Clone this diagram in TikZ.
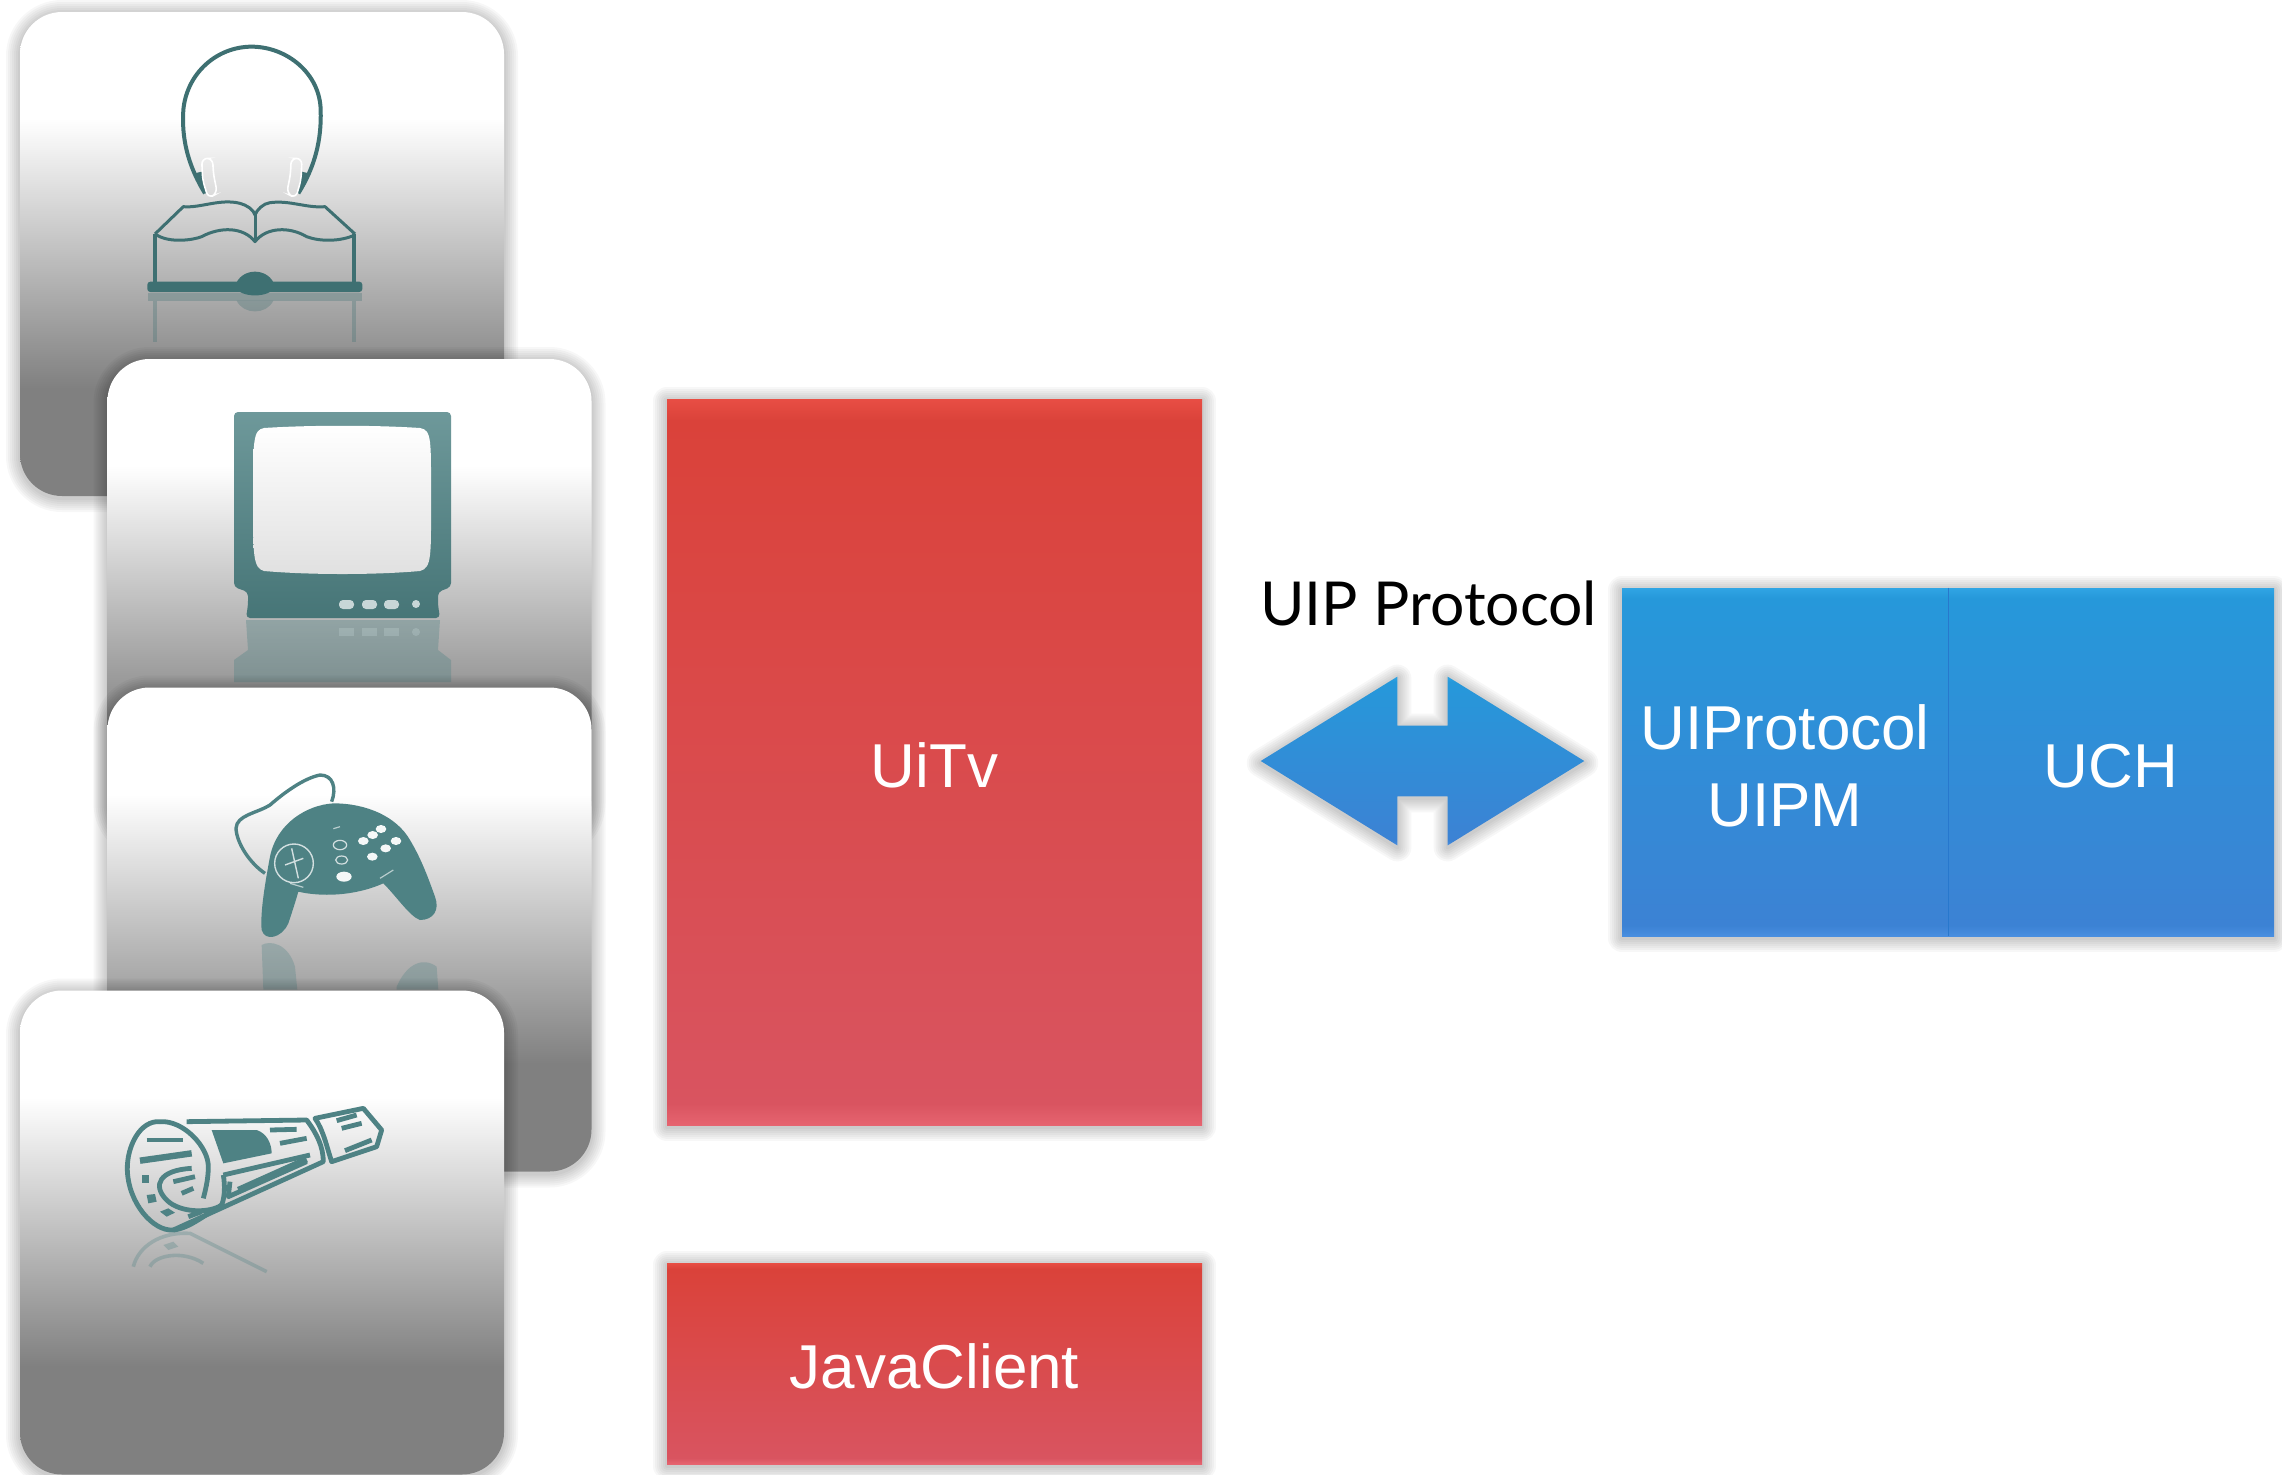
\documentclass[tikz,border=0pt]{standalone}
\usepackage{fontspec}
\setmainfont{Liberation Sans}
\newfontfamily\titlefont{Lato}
\usetikzlibrary{shapes.arrows,shadows}
\definecolor{iconteal}{RGB}{78,130,132}
\definecolor{icondark}{RGB}{62,112,114}
\definecolor{bluedivider}{RGB}{40,120,205}
\pgfdeclareverticalshading{cardshade}{100bp}{rgb(0bp)=(.5,.5,.5); rgb(36bp)=(.5,.5,.5); rgb(64bp)=(1,1,1); rgb(100bp)=(1,1,1)}
\pgfdeclareverticalshading{redshade}{100bp}{rgb(0bp)=(.902,.392,.439); rgb(25bp)=(.902,.392,.439); rgb(26.5bp)=(.851,.329,.376); rgb(73.5bp)=(.855,.259,.227); rgb(75bp)=(.91,.306,.267); rgb(100bp)=(.91,.306,.267)}
\pgfdeclareverticalshading{blueshade}{100bp}{rgb(0bp)=(.282,.557,.878); rgb(25bp)=(.282,.557,.878); rgb(26.5bp)=(.235,.51,.831); rgb(73.5bp)=(.149,.596,.855); rgb(75bp)=(.188,.647,.894); rgb(100bp)=(.188,.647,.894)}
\tikzset{
  softlayer/.style={general shadow={draw=black,draw opacity=.03,line width=#1,line join=round,shadow yshift=-1pt}},
  softshadow/.style={softlayer=14pt,softlayer=12pt,softlayer=10pt,softlayer=8pt,softlayer=6pt,softlayer=4pt,softlayer=2pt},
  cardbox/.style={rounded corners=21pt,minimum width=242pt,minimum height=242pt,inner sep=0pt,softshadow,shade,shading=cardshade},
  redblock/.style={minimum width=267.5pt,inner sep=0pt,text=white,text height=25pt,text depth=0pt,font=\fontsize{31}{37}\selectfont,softshadow,shade,shading=redshade},
  blueblock/.style={minimum width=163pt,minimum height=174pt,inner sep=0pt,text=white,align=center,font=\fontsize{31}{38.5}\selectfont,shade,shading=blueshade},
  iconline/.style={draw=iconteal,line width=1.5pt,line join=round},
}
\begin{document}
\begin{tikzpicture}[x=.5pt,y=-.5pt]
\useasboundingbox (0,0) rectangle (2282,1474);

\node[cardbox] (bookcard) at (262,254) {};
% headphones and book
\begin{scope}[shift={(130,30)},scale=1/3]
\draw[iconline,draw=icondark,line width=2pt] (225,490) .. controls (170,400) and (155,320) .. (160,240) .. controls (170,130) and (260,50) .. (365,50) .. controls (470,50) and (570,130) .. (572,240) .. controls (575,330) and (555,410) .. (505,490);
\fill[icondark] (193,430) -- (228,492) -- (216,425) -- cycle;
\fill[icondark] (537,430) -- (503,492) -- (515,425) -- cycle;
\draw[draw=white,line width=.8pt,rounded corners=3pt] (215,385) -- (248,385) -- (250,430) -- (262,490) -- (235,505) -- (218,450) -- cycle;
\draw[draw=white,line width=.8pt,rounded corners=3pt] (483,385) -- (516,385) -- (513,450) -- (497,505) -- (470,490) -- (482,430) -- cycle;
\draw[iconline,draw=icondark] (75,612) -- (160,530) .. controls (210,535) and (270,505) .. (330,520) .. controls (350,525) and (372,540) .. (375,555) .. controls (380,540) and (400,520) .. (420,518) .. controls (480,510) and (530,535) .. (585,530) -- (675,612);
\draw[iconline,draw=icondark] (80,615) .. controls (120,640) and (190,630) .. (215,620) .. controls (270,590) and (340,590) .. (375,635) .. controls (410,590) and (480,590) .. (530,620) .. controls (570,635) and (630,635) .. (675,615);
\draw[iconline,draw=icondark] (375,555) -- (375,635);
\draw[iconline,draw=icondark,line width=2.2pt] (75,612) -- (75,760) (672,612) -- (672,760);
\fill[icondark,rounded corners=1.5pt] (52,755) rectangle (697,786);
\fill[icondark] (315,770) .. controls (330,710) and (420,710) .. (435,770) .. controls (420,805) and (330,805) .. (315,770) -- cycle;
\begin{scope}[opacity=.3]
\fill[icondark] (55,790) rectangle (695,812);
\fill[icondark] (320,812) .. controls (340,855) and (410,855) .. (430,812) -- cycle;
\draw[iconline,draw=icondark,line width=2pt] (75,812) -- (75,935) (672,812) -- (672,935);
\end{scope}
\end{scope}

\node[cardbox] (tvcard) at (349.5,601) {};
% television
\shade[top color=iconteal!82!white,bottom color=iconteal!90!black,rounded corners=2pt] (234,412) -- (451,412) -- (451,587) -- (438,592) -- (438,605) -- (440,618) -- (246,618) -- (248,605) -- (248,592) -- (234,587) -- cycle;
\shade[top color=white,bottom color=black!12] (264,428) .. controls (310,425) and (375,425) .. (420,428) .. controls (432,430) and (431,440) .. (431,500) .. controls (431,555) and (432,568) .. (420,571) .. controls (375,575) and (310,575) .. (264,571) .. controls (253,568) and (253,555) .. (253,500) .. controls (253,440) and (253,430) .. (264,428) -- cycle;
\foreach \bx in {339,362,384} {
  \fill[white,opacity=.7,rounded corners=2pt] (\bx,600) rectangle ++(15,9);
  \fill[white,opacity=.3] (\bx,628) rectangle ++(15,8);
}
\fill[white,opacity=.7] (416,604) circle [radius=4];
\fill[white,opacity=.3] (416,632) circle [radius=4];
\fill[iconteal,opacity=.35] (246,620) -- (440,620) -- (438,650) -- (451,660) -- (451,682) -- (234,682) -- (234,660) -- (248,650) -- cycle;

\node[cardbox] (padcard) at (349.5,929.5) {};
% game pad
\begin{scope}[shift={(220,760)},scale=1/3]
\draw[iconline,line width=1.7pt] (335,125) .. controls (350,85) and (340,45) .. (300,45) .. controls (250,55) and (190,100) .. (150,135) .. controls (110,160) and (50,165) .. (48,205) .. controls (50,250) and (90,310) .. (135,340);
\fill[iconteal] (340,130) .. controls (260,135) and (170,190) .. (150,290) .. controls (135,370) and (120,460) .. (125,510) .. controls (135,545) and (185,535) .. (205,490) .. controls (215,460) and (225,430) .. (235,395) .. controls (300,410) and (400,410) .. (490,370) .. controls (530,410) and (570,470) .. (600,480) .. controls (640,480) and (660,450) .. (645,410) .. controls (620,340) and (600,290) .. (570,240) .. controls (530,170) and (440,130) .. (340,130) -- cycle;
\draw[white,opacity=.75,line width=.7pt] (222,310) circle [radius=58] (195,315) -- (250,295) (215,265) -- (235,355);
\draw[white,opacity=.75,line width=.6pt] (360,255) ellipse [x radius=20,y radius=14] (365,300) ellipse [x radius=18,y radius=12];
\draw[white,opacity=.6,line width=.6pt] (340,206) -- (360,200) (210,370) -- (250,382) (480,355) -- (520,330);
\fill[white,opacity=.95] (372,350) ellipse [x radius=23,y radius=15];
\foreach \px/\py in {430/243,458/225,483/207,528/243,497/265,457/290} {
  \fill[white,opacity=.95] (\px,\py) ellipse [x radius=16,y radius=12];
}
\fill[iconteal,opacity=.3] (125,555) .. controls (150,540) and (205,550) .. (225,620) -- (232,689) -- (130,689) -- cycle;
\fill[iconteal,opacity=.3] (530,680) .. controls (560,610) and (610,590) .. (650,620) -- (655,689) -- (530,689) -- cycle;
\end{scope}

\node[cardbox] (papercard) at (262,1232.5) {};
% newspaper roll
\begin{scope}[shift={(110,1090)},scale=1/3]
\begin{scope}[iconline,line width=2.4pt]
\draw (150,95) .. controls (90,90) and (50,170) .. (52,240) .. controls (55,340) and (130,425) .. (190,420) .. controls (240,415) and (290,370) .. (335,345) .. controls (300,370) and (210,370) .. (170,330) .. controls (125,285) and (150,240) .. (245,235);
\draw (150,95) .. controls (220,90) and (295,170) .. (295,230) .. controls (295,270) and (285,305) .. (280,325);
\draw (230,95) -- (590,90) .. controls (620,130) and (640,170) .. (640,215) -- (190,420);
\draw (340,255) -- (600,195);
\draw (340,255) .. controls (345,285) and (345,320) .. (335,345);
\draw (360,275) -- (355,320) -- (590,215);
\draw (615,85) -- (760,55) -- (815,120) -- (800,170) -- (665,215) .. controls (650,170) and (640,120) .. (615,85) -- cycle;
\draw (680,92) -- (740,75) (695,115) -- (755,100) (705,182) -- (785,150);
\draw (480,120) -- (560,118) (510,160) -- (590,145);
\draw (110,150) -- (220,150);
\draw (190,275) -- (255,260) (215,310) -- (250,295);
\draw (235,380) -- (275,365);
\draw[line width=3.2pt] (90,212) -- (245,190);
\draw[line width=3.2pt] (385,300) -- (590,208);
\end{scope}
\fill[iconteal] (305,120) -- (440,120) .. controls (470,130) and (485,160) .. (485,190) -- (340,220) -- cycle;
\fill[iconteal] (95,255) rectangle (118,278);
\fill[iconteal] (110,315) -- (135,312) -- (140,335) -- (115,340) -- cycle;
\fill[iconteal] (150,365) -- (175,355) -- (195,368) -- (170,380) -- cycle;
\begin{scope}[opacity=.3]
\draw[iconline,line width=1.8pt] (70,530) .. controls (85,470) and (150,425) .. (240,430) -- (470,545);
\draw[iconline,line width=1.8pt] (120,530) .. controls (135,495) and (220,480) .. (280,520);
\fill[iconteal] (160,465) -- (190,455) -- (205,470) -- (175,480) -- cycle;
\end{scope}
\end{scope}

% server side blocks
\node[redblock,minimum height=363pt] (uitv) at (934.5,762) {UiTv};
\node[redblock,minimum height=100.5pt] (javaclient) at (934.5,1363.5) {JavaClient};
\node[minimum width=326pt,minimum height=174pt,softshadow,fill=white,inner sep=0pt] (bluepair) at (1948,762) {};
\node[blueblock,text height=64.3pt] (uiprotocol) at (1785,762) {UIProtocol\\UIPM};
\node[blueblock,text height=25pt,text depth=0pt] (uch) at (2111,762) {UCH};
\draw[bluedivider,line width=.6pt] (uiprotocol.north east) -- (uiprotocol.south east);

\node[font=\titlefont\fontsize{30.3}{35}\selectfont,anchor=base,inner sep=0pt] (uiptitle) at (1428.5,625) {UIP Protocol};
\node[double arrow,double arrow tip angle=63.4,double arrow head extend=24.5pt,minimum height=161.75pt,inner xsep=0pt,inner ysep=17.5pt,softshadow,shade,shading=blueshade] (uiparrow) at (1422.5,761) {};
\end{tikzpicture}
\end{document}
